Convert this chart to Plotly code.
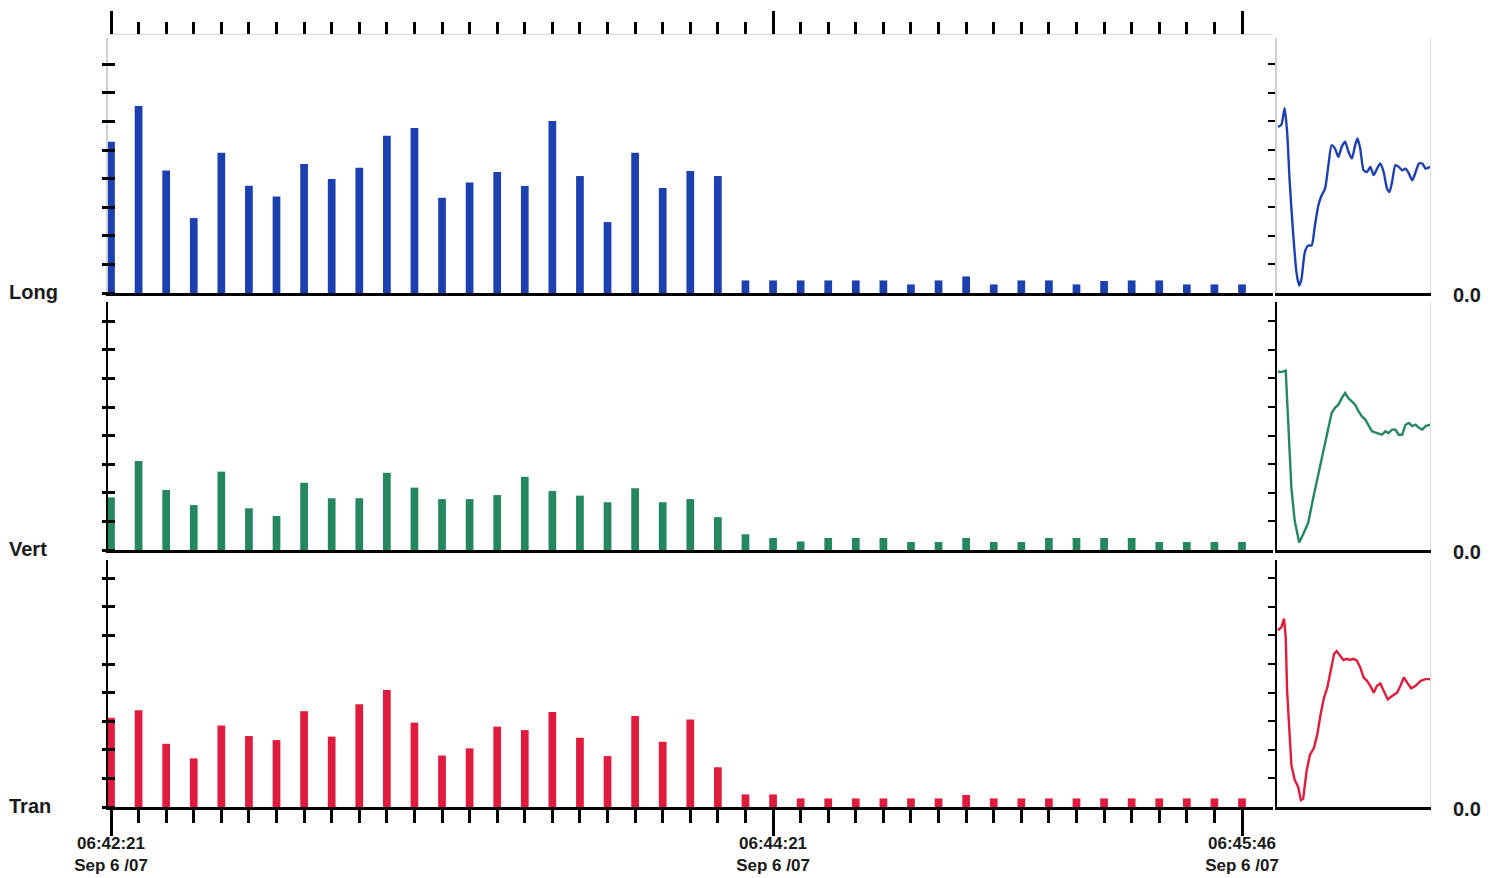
import plotly.graph_objects as go

W, H = 1497, 878
FONT = "Liberation Sans, Arial, Helvetica, sans-serif"

# ---------------- data ----------------
time_s = [0, 5, 10, 15, 20, 25, 30, 35, 40, 45, 50, 55, 60, 65, 70, 75, 80, 85, 90, 95,
          100, 105, 110, 115, 120, 125, 130, 135, 140, 145, 150, 155, 160, 165, 170, 175,
          180, 185, 190, 195, 200, 205]
time_ticks = [0, 120, 205]
time_labels = ["<b>06:42:21<br>Sep 6 /07</b>", "<b>06:44:21<br>Sep 6 /07</b>",
               "<b>06:45:46<br>Sep 6 /07</b>"]
y_ticks_main = [0, 1, 2, 3, 4, 5, 6, 7, 8]
y_ticks_wave = [1, 2, 3, 4, 5, 6, 7, 8]

channels = ["Long", "Vert", "Tran"]
zero_label = "0.0"

long_vals = [5.29, 6.54, 4.28, 2.62, 4.90, 3.75, 3.37, 4.51, 3.99, 4.38, 5.50, 5.77,
             3.33, 3.86, 4.23, 3.74, 6.01, 4.09, 2.48, 4.90, 3.67, 4.27, 4.09,
             0.44, 0.44, 0.44, 0.44, 0.44, 0.44, 0.30, 0.44, 0.58, 0.30, 0.44, 0.44,
             0.30, 0.42, 0.44, 0.44, 0.30, 0.30, 0.30]
vert_vals = [1.84, 3.11, 2.10, 1.57, 2.74, 1.46, 1.19, 2.35, 1.81, 1.81, 2.70, 2.18,
             1.78, 1.78, 1.92, 2.56, 2.06, 1.90, 1.67, 2.16, 1.67, 1.78, 1.15,
             0.55, 0.42, 0.30, 0.42, 0.42, 0.42, 0.28, 0.28, 0.42, 0.28, 0.28, 0.42,
             0.42, 0.42, 0.42, 0.28, 0.28, 0.28, 0.28]
tran_vals = [3.12, 3.38, 2.21, 1.70, 2.85, 2.48, 2.34, 3.35, 2.46, 3.59, 4.09, 2.95,
             1.80, 2.05, 2.81, 2.69, 3.32, 2.42, 1.78, 3.18, 2.28, 3.06, 1.39,
             0.44, 0.44, 0.30, 0.30, 0.30, 0.30, 0.30, 0.30, 0.42, 0.30, 0.30, 0.30,
             0.30, 0.30, 0.30, 0.30, 0.30, 0.30, 0.30]

wave_x_long = [0.7, 2.9, 5.0, 6.6, 8.3, 10.5, 12.7, 14.5, 16.0, 18.2, 20.4, 22.6, 24.8,
               27.0, 29.2, 31.4, 33.6, 35.7, 37.9, 40.1, 42.3, 44.5, 46.7, 48.9, 51.1,
               52.6, 54.4, 56.6, 58.8, 61.0, 63.2, 65.4, 67.5, 69.7, 71.9, 73.5, 75.2,
               77.4, 79.6, 81.8, 84.0, 86.2, 88.4, 90.6, 92.8, 95.0, 97.1, 100]
wave_long = [5.81, 5.89, 6.46, 5.64, 3.88, 2.13, 0.73, 0.26, 0.49, 1.43, 1.66, 1.66,
             2.36, 3.06, 3.42, 3.65, 4.47, 5.17, 5.05, 4.76, 5.11, 5.29, 4.94, 4.70,
             5.17, 5.40, 5.05, 4.29, 4.23, 4.41, 4.12, 4.35, 4.53, 4.23, 3.65, 3.53,
             3.88, 4.47, 4.41, 4.29, 4.35, 4.18, 3.94, 4.23, 4.53, 4.53, 4.35, 4.41]

wave_x_vert = [0.7, 2.9, 5.7, 6.6, 7.9, 9.4, 11.6, 14.5, 17.1, 20.4, 23.7, 27.0, 30.3,
               33.6, 35.7, 37.9, 40.1, 42.3, 44.5, 46.7, 48.9, 51.1, 53.3, 55.5, 57.7,
               59.9, 62.1, 65.4, 68.6, 70.8, 73.0, 75.2, 77.4, 79.6, 81.8, 84.0, 86.2,
               88.4, 90.6, 92.8, 95.0, 97.1, 100]
wave_vert = [6.24, 6.22, 6.27, 5.31, 3.57, 2.17, 1.01, 0.26, 0.55, 0.95, 1.83, 2.64,
             3.45, 4.27, 4.79, 4.97, 5.08, 5.31, 5.49, 5.31, 5.20, 5.08, 4.85, 4.67,
             4.56, 4.33, 4.15, 4.09, 4.03, 4.15, 4.09, 4.21, 4.21, 4.03, 4.03, 4.38,
             4.44, 4.33, 4.38, 4.27, 4.21, 4.33, 4.38]

wave_x_tran = [0.7, 2.9, 4.6, 5.7, 6.6, 7.9, 9.4, 11.6, 13.8, 15.6, 17.1, 19.3, 21.5,
               24.1, 26.3, 28.5, 30.7, 32.9, 35.1, 37.3, 39.0, 41.2, 43.4, 45.6, 47.8,
               50.0, 52.2, 54.4, 56.6, 58.8, 61.0, 63.2, 65.4, 67.5, 69.7, 72.4, 75.2,
               78.5, 80.7, 82.9, 85.1, 87.7, 90.6, 93.9, 97.1, 100]
wave_tran = [6.18, 6.29, 6.59, 5.94, 4.06, 2.88, 1.47, 0.94, 0.71, 0.24, 0.29, 1.24,
             1.82, 2.06, 2.53, 3.24, 3.82, 4.18, 4.76, 5.35, 5.45, 5.29, 5.14, 5.18,
             5.14, 5.18, 5.12, 4.88, 4.53, 4.41, 4.24, 4.00, 4.24, 4.32, 4.06, 3.76,
             3.88, 4.00, 4.24, 4.53, 4.35, 4.15, 4.24, 4.41, 4.47, 4.47]

# ---------------- layout helpers ----------------
def fx(p):
    return p / W


def fy(p):
    return 1 - p / H


def key(prefix, n):
    return prefix if n == 1 else f"{prefix}{n}"


def ref(prefix, n):
    return prefix if n == 1 else f"{prefix}{n}"


TICK_PX = 28.6
T0_PX, T_END_PX = 111, 1242
PX_PER_S = (T_END_PX - T0_PX) / 205.0
MAIN_L, MAIN_R = 108, 1273
WAVE_L, WAVE_R = 1277, 1430
x_range = [(MAIN_L - T0_PX) / PX_PER_S, (MAIN_R - T0_PX) / PX_PER_S]

rows = [
    dict(name=channels[0], vals=long_vals, wx=wave_x_long, wy=wave_long,
         color="#1c40b0", base=293, top=38, axis="#d0d0d0", shape="spline"),
    dict(name=channels[1], vals=vert_vals, wx=wave_x_vert, wy=wave_vert,
         color="#25875f", base=550, top=302, axis="#000000", shape="linear"),
    dict(name=channels[2], vals=tran_vals, wx=wave_x_tran, wy=wave_tran,
         color="#e01c3e", base=807, top=560, axis="#000000", shape="linear"),
]

fig = go.Figure()
layout = dict(
    width=W, height=H, margin=dict(l=0, r=0, t=0, b=0, pad=0),
    paper_bgcolor="white", plot_bgcolor="rgba(0,0,0,0)",
    showlegend=False, font=dict(family=FONT, color="#1a1a1a"),
    annotations=[],
)

for i, r in enumerate(rows):
    n = i + 1          # main bars
    nw = i + 4         # waveform
    no = i + 7         # free axis carrying the crossing ticks on main panel
    nr = i + 10        # overlay (right border) on waveform
    ytop = (r["base"] - r["top"]) / TICK_PX
    ydom = [fy(r["base"]), fy(r["top"])]

    fig.add_trace(go.Bar(x=time_s, y=r["vals"], width=1.4,
                         marker=dict(color=r["color"], line=dict(width=0)),
                         xaxis=ref("x", n), yaxis=ref("y", n), hoverinfo="x+y"))
    fig.add_trace(go.Scatter(x=r["wx"], y=r["wy"], mode="lines",
                             line=dict(color=r["color"], width=2.4, shape=r["shape"],
                                       smoothing=0.6),
                             xaxis=ref("x", nw), yaxis=ref("y", nw)))
    # empty helper traces so the extra axes are drawn
    fig.add_trace(go.Scatter(x=[None], y=[None], xaxis=ref("x", n), yaxis=ref("y", no),
                             hoverinfo="skip"))
    fig.add_trace(go.Scatter(x=[None], y=[None], xaxis=ref("x", nw), yaxis=ref("y", nr),
                             hoverinfo="skip"))

    xa = dict(domain=[fx(MAIN_L), fx(MAIN_R)], range=x_range, anchor=ref("y", n),
              showline=True, linecolor="black", linewidth=2.5, showgrid=False,
              zeroline=False, ticks="", showticklabels=False, fixedrange=True,
              automargin=False)
    if i == 2:
        xa.update(tickmode="array", tickvals=time_ticks, ticktext=time_labels,
                  ticks="outside", ticklen=26, tickwidth=2.5, tickcolor="black",
                  showticklabels=True, ticklabelstandoff=-7,
                  tickfont=dict(family=FONT, size=17, color="#1a1a1a"),
                  minor=dict(tickmode="array", tickvals=time_s, ticks="outside",
                             ticklen=13, tickwidth=2.5, tickcolor="black"))
    layout[key("xaxis", n)] = xa
    layout[key("yaxis", n)] = dict(
        domain=ydom, range=[0, ytop], anchor=ref("x", n), showline=True,
        linecolor=r["axis"], linewidth=2, ticks="",
        showticklabels=False, showgrid=False, zeroline=False, fixedrange=True,
        automargin=False)
    # ticks that cross the left axis line: a free axis just right of it
    layout[key("yaxis", no)] = dict(
        overlaying=ref("y", n), anchor="free", position=fx(MAIN_L + 7),
        range=[0, ytop], showline=False, ticks="outside", ticklen=13, tickwidth=2.5,
        tickcolor="black", tickmode="array", tickvals=y_ticks_main,
        showticklabels=False, showgrid=False, zeroline=False, fixedrange=True,
        automargin=False)

    layout[key("xaxis", nw)] = dict(
        domain=[fx(WAVE_L), fx(WAVE_R)], range=[0, 100], anchor=ref("y", nw),
        showline=True, linecolor="black", linewidth=2.5, ticks="",
        showticklabels=False, showgrid=False, zeroline=False, fixedrange=True,
        automargin=False)
    layout[key("yaxis", nw)] = dict(
        domain=ydom, range=[0, ytop], anchor=ref("x", nw), showline=True,
        linecolor=r["axis"], linewidth=2, ticks="outside", ticklen=7, tickwidth=2,
        tickcolor="black", tickmode="array", tickvals=y_ticks_wave,
        showticklabels=False, showgrid=False, zeroline=False, fixedrange=True,
        automargin=False)
    layout[key("yaxis", nr)] = dict(
        overlaying=ref("y", nw), anchor=ref("x", nw), side="right", range=[0, ytop],
        showline=True, linecolor="#dcdcdc", linewidth=1, ticks="",
        showticklabels=False, showgrid=False, zeroline=False, fixedrange=True,
        automargin=False)

    layout["annotations"].append(dict(
        text=f"<b>{r['name']}</b>", x=fx(7), y=fy(r["base"] - 1), xref="paper",
        yref="paper", xanchor="left", yanchor="middle", showarrow=False,
        font=dict(family=FONT, size=20, color="#1a1a1a")))
    layout["annotations"].append(dict(
        text=f"<b>{zero_label}</b>", x=fx(1451), y=fy(r["base"] + 2), xref="paper",
        yref="paper", xanchor="left", yanchor="middle", showarrow=False,
        font=dict(family=FONT, size=20, color="#1a1a1a")))

# top time-tick axis above the Long panel
fig.add_trace(go.Scatter(x=[None], y=[None], xaxis="x13", yaxis="y", hoverinfo="skip"))
layout["xaxis13"] = dict(
    overlaying="x", anchor="free", position=fy(34), side="top", range=x_range,
    showline=True, linecolor="#dcdcdc", linewidth=1, ticks="outside",
    tickmode="array", tickvals=time_ticks, ticklen=23, tickwidth=2.5,
    tickcolor="black", showticklabels=False, showgrid=False, zeroline=False,
    fixedrange=True, automargin=False,
    minor=dict(tickmode="array", tickvals=time_s, ticks="outside", ticklen=12,
               tickwidth=2.5, tickcolor="black"))

fig.update_layout(**layout)
fig.write_html("out.html", config={"displayModeBar": False},
               post_script="document.body.style.margin='0';"
                           "document.body.style.padding='0';")
